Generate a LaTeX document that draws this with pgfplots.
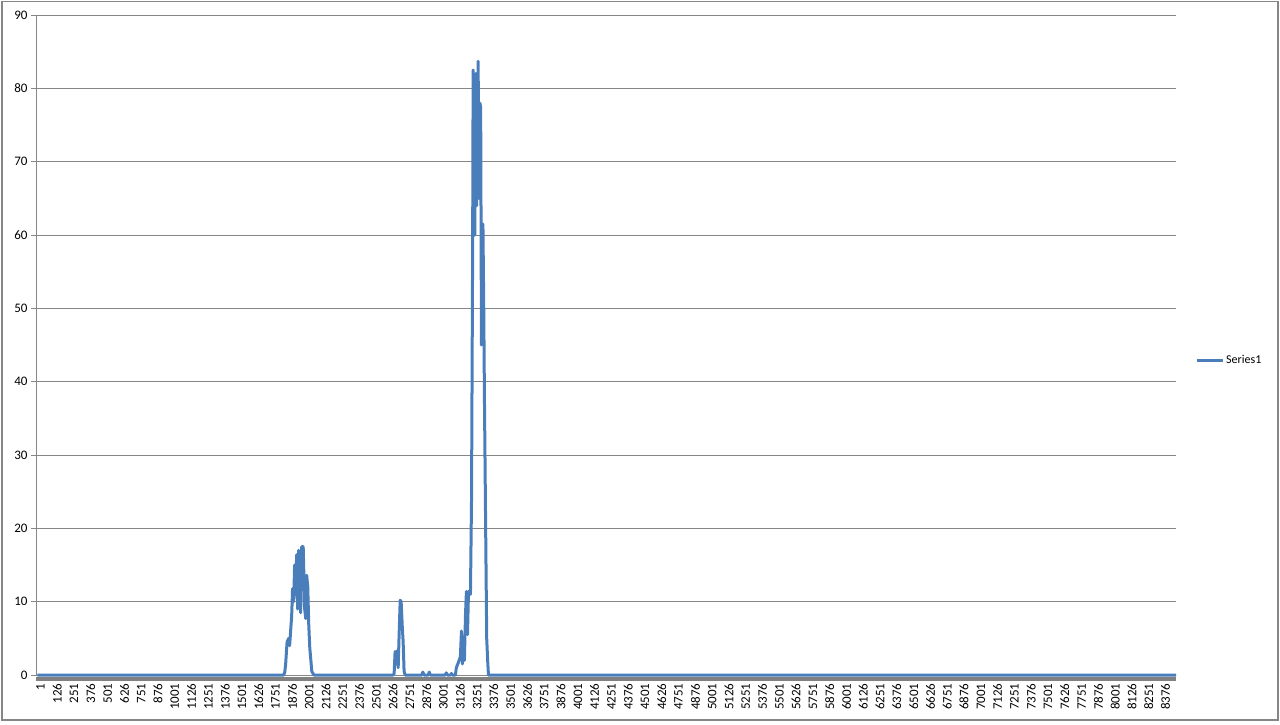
\documentclass[border=0pt]{standalone}
\usepackage{fontspec}
\setmainfont{Carlito}
\usepackage{pgfplots}
\pgfplotsset{compat=1.18}

\definecolor{serieblue}{HTML}{4A7EBB}
\definecolor{gridgray}{HTML}{868686}
\definecolor{bandgray}{HTML}{808080}

\begin{document}
\begin{tikzpicture}
\path[use as bounding box] (0pt,0pt) rectangle (1280pt,724pt);
\draw[gridgray, line width=1.2pt] (2pt,4pt) rectangle (1278pt,722.5pt);
% thick grey horizontal axis band
\draw[bandgray, line width=4.5pt] (36pt,45pt) -- (1176pt,45pt);
\begin{axis}[
    at={(36pt,49pt)}, anchor=south west,
    scale only axis,
    width=1140pt, height=660pt,
    xmin=-10, xmax=8476,
    ymin=0, ymax=90,
    xtick={1,126,...,8376},
    ytick={0,10,...,90},
    scaled x ticks=false,
    /pgf/number format/1000 sep={},
    /pgf/number format/assume math mode=true,
    axis lines*=left,
    x axis line style={draw=none},
    y axis line style={draw=gridgray, line width=0.8pt},
    ymajorgrids,
    grid style={gridgray, line width=0.8pt},
    tick align=outside,
    x tick style={draw=none},
    y tick style={gridgray, line width=0.8pt},
    major tick length=5pt,
    tick label style={font=\fontsize{13}{15}\selectfont, black},
    xticklabel style={rotate=90, anchor=east, yshift=-3pt},
    clip=false,
    legend style={at={(rel axis cs:1.0158,0.477)}, anchor=west,
        draw=none, fill=none, inner sep=1pt,
        font=\fontsize{12}{14}\selectfont},
    legend cell align=left,
    legend image code/.code={\draw[#1, line width=3pt] (0pt,0pt) -- (26pt,0pt);},
]
\addplot[serieblue, line width=3pt, line join=round] coordinates {
(1,0) (1833,0) (1841,0.3) (1848,1.4) (1859,4.5) (1871,5.0) (1878,4.0)
(1885,5.9) (1893,8.0) (1900,11.8) (1908,10.0) (1915,15.0) (1923,11.0)
(1930,16.4) (1938,9.0) (1945,17.0) (1953,13.0) (1960,8.5) (1968,17.5)
(1979,17.5) (1990,9.0) (1998,7.7) (2005,13.6) (2013,12.0) (2020,7.0)
(2028,3.7) (2043,0.5) (2058,0)
(2648,0) (2656,0.2) (2663,3.2) (2671,1.5) (2678,3.3) (2686,1.0)
(2693,5.5) (2701,10.2) (2708,10.0) (2716,6.8) (2723,4.5) (2730,0.5) (2738,0)
(2862,0) (2870,0.4) (2878,0) (2910,0) (2917,0.4) (2925,0)
(3036,0) (3044,0.3) (3052,0) (3075,0) (3082,0.2) (3090,0)
(3112,0) (3119,1.0) (3134,1.7) (3149,2.5) (3157,6.0) (3164,1.5)
(3172,5.0) (3179,2.0) (3187,8.2) (3194,11.4) (3202,5.5) (3209,11.0)
(3217,11.5) (3224,11) (3232,24) (3240,57) (3244,82.5) (3250,78)
(3256,60) (3263,82) (3270,64) (3281,83.7) (3288,65) (3294,78)
(3300,77.5) (3306,45) (3311,50) (3317,61.5) (3323,50) (3328,38)
(3338,18.4) (3345,5) (3352,2) (3358,0) (8476,0)
};
\addlegendentry{Series1}
\end{axis}
\end{tikzpicture}
\end{document}
